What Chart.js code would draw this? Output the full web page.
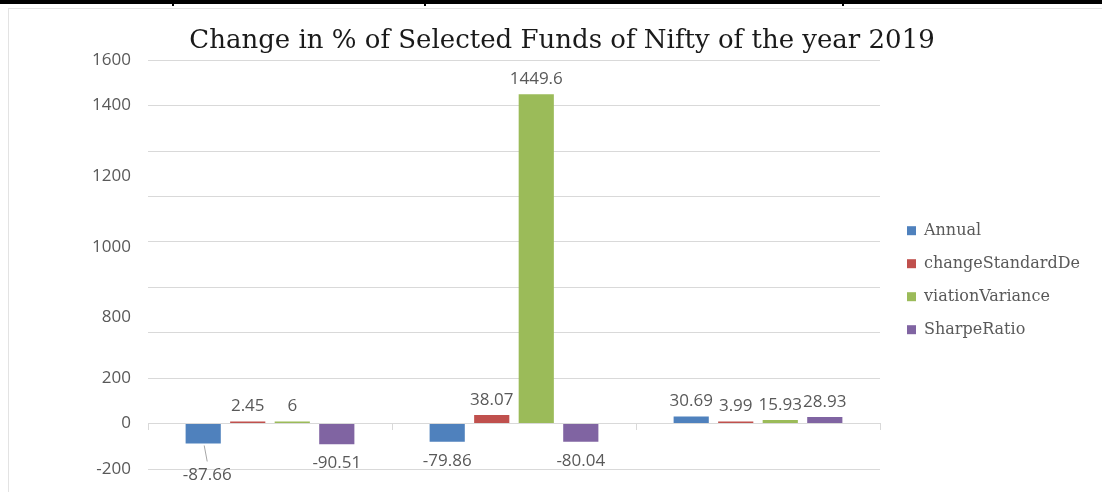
<!DOCTYPE html>
<html lang="en">
  <head>
    <meta charset="UTF-8" />
    <title>Change in % of Selected Funds of Nifty of the year 2019</title>
    <script src="https://cdn.jsdelivr.net/npm/chart.js@4.4.0/dist/chart.umd.min.js"></script>
    <style>
      body {
        margin: 0;
        background: white;
        width: 1102px;
        height: 492px;
        overflow: hidden;
        position: relative;
      }
      .topRule {
        position: absolute;
        left: 0;
        top: 0;
        width: 1102px;
        height: 4px;
        background: black;
      }
      .cellEdge {
        position: absolute;
        top: 0;
        width: 2px;
        height: 6px;
        background: black;
      }
      .frame {
        position: absolute;
        left: 8px;
        top: 8px;
        width: 1094px;
        height: 484px;
        border-left: 1px solid #e3e3e3;
        border-top: 1px solid #e3e3e3;
      }
      .chart-container {
        position: absolute;
        left: 9px;
        top: 9px;
        width: 1093px;
        height: 483px;
      }
    </style>
  </head>
  <body>
    <div class="topRule"></div>
    <div class="cellEdge" style="left: 172px"></div>
    <div class="cellEdge" style="left: 424px"></div>
    <div class="cellEdge" style="left: 842px"></div>
    <div class="frame"></div>
    <div class="chart-container">
      <canvas id="myChart"></canvas>
    </div>

    <script>
      // data
      const funds = ["Fund 1", "Fund 2", "Fund 3"];
      const annual = [-87.66, -79.86, 30.69];
      const changeStandardDe = [2.45, 38.07, 3.99];
      const viationVariance = [6, 1449.6, 15.93];
      const sharpeRatio = [-90.51, -80.04, 28.93];

      // the y labels in the picture do not all sit on their grid lines
      const tickLabels = ["1600", "1400", "1200", "1000", "800", "200", "0", "-200"];
      const tickValues = [1600, 1400, 1090, 775, 470, 200, 0, -200];

      const grey = "#595959";
      const legendFont = "16px 'DejaVu Serif'";

      // work out the legend width so the plot ends at x=871 and the
      // title stays centred where it is in the picture
      const ctx = document.getElementById("myChart").getContext("2d");
      ctx.font = legendFont;
      const longest = ctx.measureText("changeStandardDe").width;
      const legendW = Math.ceil(18 + 9 + 8 + longest + 1);
      const padRight = 212 - legendW;
      const padLeft = 13 + padRight;
      const yLabelW = 139 - padLeft;

      // value labels over / under each bar
      const valueLabels = {
        id: "valueLabels",
        afterDatasetsDraw(chart) {
          const c = chart.ctx;
          c.save();
          c.font = "17px 'Open Sans'";
          c.fillStyle = grey;
          c.textAlign = "center";
          c.textBaseline = "middle";
          chart.data.datasets.forEach((ds, di) => {
            const meta = chart.getDatasetMeta(di);
            meta.data.forEach((bar, i) => {
              const v = ds.data[i];
              let x = bar.x;
              let y = v >= 0 ? bar.y - 15 : bar.y + 19;
              if (di === 0 && i === 0) {
                // this one was pushed down with a leader line
                c.strokeStyle = "#a6a6a6";
                c.lineWidth = 1;
                c.beginPath();
                c.moveTo(bar.x + 1, bar.y + 2);
                c.lineTo(bar.x + 4, bar.y + 18);
                c.stroke();
                x += 4;
                y += 13;
              }
              c.fillText(String(v), x, y);
            });
          });
          c.restore();
        },
      };

      const myChart = new Chart(ctx, {
        type: "bar",
        data: {
          labels: funds,
          datasets: [
            { label: "Annual", data: annual, backgroundColor: "#4f81bd" },
            { label: "changeStandardDe", data: changeStandardDe, backgroundColor: "#c0504d" },
            { label: "viationVariance", data: viationVariance, backgroundColor: "#9bbb59" },
            { label: "SharpeRatio", data: sharpeRatio, backgroundColor: "#8064a2" },
          ],
        },
        options: {
          responsive: true,
          maintainAspectRatio: false,
          animation: false,
          barPercentage: 0.79,
          categoryPercentage: 0.73,
          datasets: {
            bar: { minBarLength: 2 },
          },
          layout: {
            padding: { left: padLeft, right: padRight, top: 0, bottom: 23 },
          },
          scales: {
            x: {
              position: { y: 0 },
              grid: {
                offset: true,
                drawOnChartArea: false,
                tickLength: 6,
                color: "#d9d9d9",
              },
              border: { color: "#d9d9d9" },
              ticks: { display: false },
            },
            y: {
              min: -200,
              max: 1600,
              ticks: { stepSize: 200, display: false },
              grid: { color: "#d9d9d9", drawTicks: false },
              border: { display: false },
              afterFit(axis) {
                axis.width = 0;
              },
            },
            yLabels: {
              type: "linear",
              position: "left",
              min: -200,
              max: 1600,
              // hidden tick length gives the gap between labels and plot
              grid: { display: false, drawTicks: true, tickLength: 17 },
              border: { display: false },
              afterBuildTicks(axis) {
                axis.ticks = tickValues.map((v) => ({ value: v }));
              },
              afterFit(axis) {
                axis.width = yLabelW;
              },
              ticks: {
                autoSkip: false,
                padding: 0,
                color: grey,
                font: { family: "'Open Sans'", size: 17 },
                callback: (v, i) => tickLabels[i],
              },
            },
            // gap between plot and legend
            spacer: {
              type: "linear",
              position: "right",
              grid: { display: false, drawTicks: false },
              border: { display: false },
              ticks: { display: false },
              afterFit(axis) {
                axis.width = 10;
              },
            },
          },
          plugins: {
            title: {
              display: true,
              text: "Change in % of Selected Funds of Nifty of the year 2019",
              color: "#1a1a1a",
              font: { family: "'DejaVu Serif'", size: 26, weight: "normal" },
              padding: { top: 17, bottom: 3 },
            },
            legend: {
              position: "right",
              maxWidth: legendW,
              title: {
                display: true,
                text: "",
                font: { size: 12 },
                padding: { top: 68, bottom: 0 },
              },
              labels: {
                color: grey,
                boxWidth: 9,
                boxHeight: 9,
                padding: 17,
                font: { family: "'DejaVu Serif'", size: 16 },
              },
            },
            tooltip: { enabled: false },
          },
        },
        plugins: [valueLabels],
      });
    </script>
  </body>
</html>
